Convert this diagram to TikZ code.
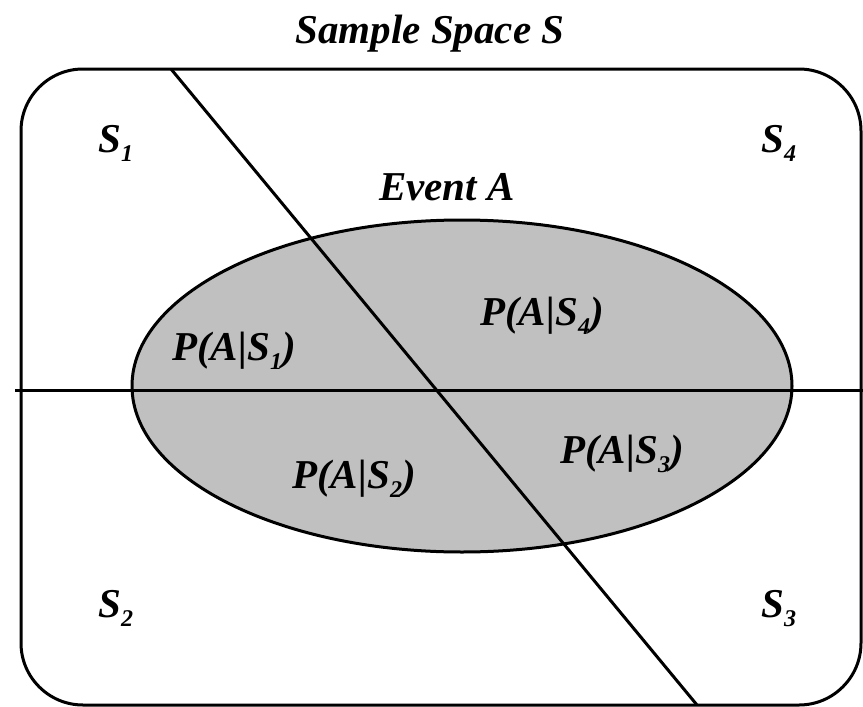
\documentclass[tikz,border=0pt]{standalone}
\usepackage{fontspec}
\setmainfont{Liberation Serif}
\newcommand{\sbs}[1]{\raisebox{-0.22em}{\fontsize{24}{24}\selectfont #1}}
\definecolor{evgray}{RGB}{192,192,192}
\tikzset{
  lbl/.style={anchor=base west, inner sep=0pt, font=\fontsize{41}{41}\selectfont\bfseries\itshape},
  thick line/.style={line width=3pt, black},
}
\begin{document}
\begin{tikzpicture}[x=1pt,y=-1pt]
\useasboundingbox (0,0) rectangle (863,707);
% sample space
\draw[thick line, rounded corners=62pt] (21,69) rectangle (861,705);
% event A
\draw[thick line, fill=evgray] (462,386) ellipse [x radius=330, y radius=166];
% partition lines
\coordinate (dtop) at (171,69);
\coordinate (dbot) at (697,705);
\coordinate (hleft) at (15,390);
\coordinate (hright) at (863,390);
\draw[thick line] (dtop) -- (dbot);
\draw[thick line] (hleft) -- (hright);
% labels
\node[lbl, anchor=base] (title) at (430,43) {Sample Space S};
\node[lbl] (s1) at (98,152) {S\sbs{1}};
\node[lbl] (s4) at (761,152) {S\sbs{4}};
\node[lbl] (s2) at (98,617) {S\sbs{2}};
\node[lbl] (s3) at (761,617) {S\sbs{3}};
\node[lbl] (evA) at (379,200) {Event A};
\node[lbl] (p1) at (172,360) {P(A|S\sbs{1})};
\node[lbl] (p4) at (480,325) {P(A|S\sbs{4})};
\node[lbl] (p2) at (292,488) {P(A|S\sbs{2})};
\node[lbl] (p3) at (560,463) {P(A|S\sbs{3})};
\end{tikzpicture}
\end{document}
